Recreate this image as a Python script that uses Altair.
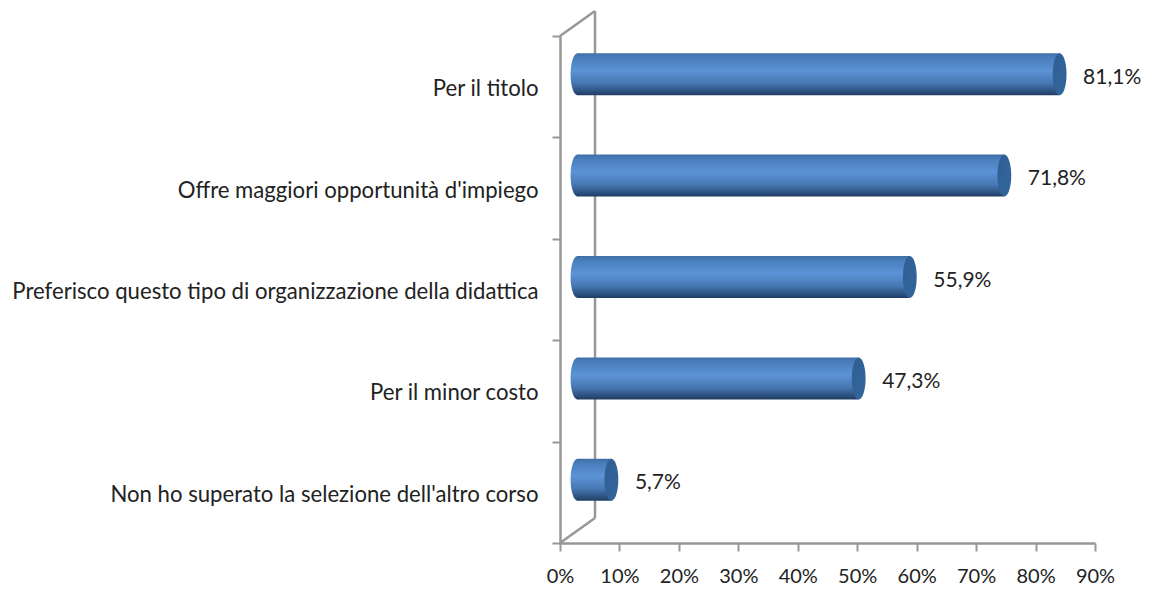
import altair as alt
import pandas as pd

categories = ["Per il titolo", "Offre maggiori opportunità d'impiego",
              "Preferisco questo tipo di organizzazione della didattica",
              "Per il minor costo", "Non ho superato la selezione dell'altro corso"]
values = [0.811, 0.718, 0.559, 0.473, 0.057]
labels = ["81,1%", "71,8%", "55,9%", "47,3%", "5,7%"]
x_ticks = [0, 0.1, 0.2, 0.3, 0.4, 0.5, 0.6, 0.7, 0.8, 0.9]

df = pd.DataFrame({"cat": categories, "val": values, "lab": labels, "zero": [0.0] * 5})

FONT = "Lato"
GRAY = "#979797"
W, H = 535, 507
DX, DY = 17.5, -12.5   # depth shift of the cylinders
ELLIPSE = "M0,-1 A0.33,1 0 1,1 0,1 A0.33,1 0 1,1 0,-1 Z"
CAP = 42 ** 2

body = alt.Gradient(gradient="linear", x1=0, x2=0, y1=0, y2=1, stops=[
    alt.GradientStop(offset=0, color="#3f6fa8"),
    alt.GradientStop(offset=0.12, color="#4a7fbd"),
    alt.GradientStop(offset=0.42, color="#5b93d7"),
    alt.GradientStop(offset=0.72, color="#4677b1"),
    alt.GradientStop(offset=0.93, color="#294c78"),
    alt.GradientStop(offset=1, color="#203c62"),
])
cap = alt.Gradient(gradient="linear", x1=0, x2=1, y1=0, y2=1, stops=[
    alt.GradientStop(offset=0, color="#2f5f94"),
    alt.GradientStop(offset=1, color="#33659c"),
])

xs = alt.Scale(domain=[0, 0.9], nice=False)
ys = alt.Scale(domain=categories, paddingInner=0, paddingOuter=0)
x_enc = alt.X("val:Q", scale=xs, title=None, axis=alt.Axis(
    values=x_ticks, format=".0%", grid=False, domainColor=GRAY, domainWidth=2.5,
    tickColor=GRAY, tickWidth=2, tickSize=8, labelFont=FONT, labelFontSize=20,
    labelColor="#222222", labelPadding=15, labelFlush=False))
y_enc = alt.Y("cat:N", scale=ys, sort=categories, title=None, axis=alt.Axis(
    tickBand="extent", grid=False, domainColor=GRAY, domainWidth=2.5, tickColor=GRAY,
    tickWidth=2, tickSize=8, labelFont=FONT, labelFontSize=22.15, labelColor="#222222",
    labelPadding=14, labelLimit=560, labelOffset=2))

base = alt.Chart(df)
one = alt.Chart(df.head(1))

wall_v = one.mark_rule(color=GRAY, strokeWidth=2.5).encode(
    x=alt.value(35), y=alt.value(-25), y2=alt.value(H - 25))
wall_top = one.mark_rule(color=GRAY, strokeWidth=2.5).encode(
    x=alt.value(0), x2=alt.value(35), y=alt.value(0), y2=alt.value(-25))
wall_bot = one.mark_rule(color=GRAY, strokeWidth=2.5).encode(
    x=alt.value(0), x2=alt.value(35), y=alt.value(H), y2=alt.value(H - 25))

left_cap = base.mark_point(shape=ELLIPSE, size=CAP, filled=True, fill=body, opacity=1,
                           strokeWidth=0, xOffset=DX, yOffset=DY).encode(
    x=alt.X("zero:Q", scale=xs), y=alt.Y("cat:N", scale=ys, sort=categories))
bars = base.mark_bar(fill=body, height=42, xOffset=DX, x2Offset=DX, yOffset=DY).encode(
    x=x_enc, x2=alt.X2("zero"), y=y_enc)
right_cap = base.mark_point(shape=ELLIPSE, size=CAP, filled=True, fill=cap, opacity=1,
                            strokeWidth=0, xOffset=DX, yOffset=DY).encode(
    x=alt.X("val:Q", scale=xs), y=alt.Y("cat:N", scale=ys, sort=categories))
text = base.mark_text(align="left", baseline="middle", font=FONT, fontSize=21,
                      color="#222222", dx=41, dy=-9).encode(
    x=alt.X("val:Q", scale=xs), y=alt.Y("cat:N", scale=ys, sort=categories), text="lab:N")

chart = alt.layer(wall_v, wall_top, wall_bot, bars, left_cap, right_cap, text).properties(
    width=W, height=H,
    autosize=alt.AutoSizeParams(type="none"),
    padding={"left": 552, "top": 28, "right": 47, "bottom": 47},
).configure_view(stroke=None)

chart.save("out.html", embed_options={"renderer": "svg", "actions": False})
